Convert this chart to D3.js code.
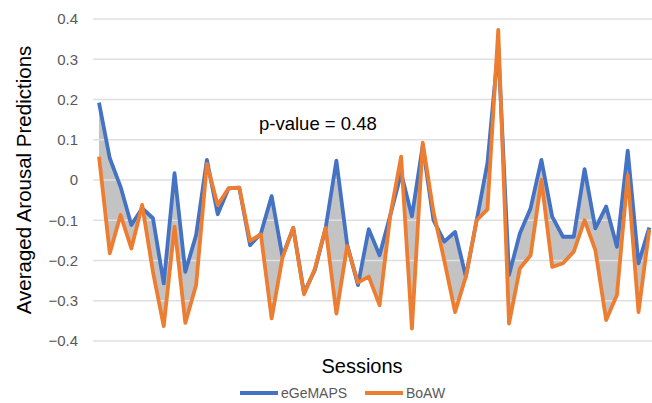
<!DOCTYPE html>
<html lang="en">
<head>
  <meta charset="UTF-8">
  <title>Averaged Arousal Predictions</title>
  <style>
    body { margin: 0; background: white; font-family: "Liberation Sans", Arial, sans-serif; }
  </style>
</head>
<body>

<svg width="652" height="403"></svg>

<script src="https://d3js.org/d3.v7.min.js"></script>
<script>

// Data
let sessions = d3.range(1, 53);
let yTicks = [-0.4, -0.3, -0.2, -0.1, 0, 0.1, 0.2, 0.3, 0.4];

let egemaps = [0.192, 0.054, -0.017, -0.112, -0.07, -0.095, -0.257, 0.017, -0.228, -0.137,
  0.05, -0.085, -0.021, -0.019, -0.162, -0.133, -0.04, -0.19, -0.119, -0.28,
  -0.224, -0.12, 0.048, -0.16, -0.261, -0.122, -0.187, -0.087, 0.017, -0.09,
  0.085, -0.1, -0.153, -0.129, -0.24, -0.1, 0.042, 0.33, -0.236, -0.133,
  -0.07, 0.05, -0.091, -0.141, -0.141, 0.027, -0.12, -0.066, -0.166, 0.073,
  -0.207, -0.118];

let boaw = [0.058, -0.182, -0.087, -0.17, -0.062, -0.228, -0.363, -0.116, -0.355, -0.261,
  0.04, -0.062, -0.021, -0.019, -0.151, -0.135, -0.344, -0.193, -0.119, -0.284,
  -0.221, -0.119, -0.332, -0.164, -0.255, -0.24, -0.311, -0.087, 0.058, -0.369,
  0.093, -0.08, -0.2, -0.328, -0.24, -0.1, -0.073, 0.373, -0.357, -0.22,
  -0.187, 0.0, -0.216, -0.207, -0.178, -0.1, -0.174, -0.348, -0.286, 0.012,
  -0.328, -0.123];

let seriesNames = ["eGeMAPS", "BoAW"];
let colors = ["#4472C4", "#ED7D31"];

let svg = d3.select("svg");

let x = d3.scalePoint()
    .domain(sessions)
    .range([93.6, 654.7])
    .padding(0.5);

let y = d3.scaleLinear()
    .domain([-0.4, 0.4])
    .range([341, 19]);

let rows = sessions.map((s, i) => ({ s: s, a: egemaps[i], b: boaw[i] }));

// grey band between the two series
svg.append("path")
    .datum(rows)
    .attr("fill", "#c3c3c3")
    .attr("d", d3.area()
      .x(d => x(d.s))
      .y0(d => y(d.a))
      .y1(d => y(d.b)));

// gridlines (drawn over the band, so they show as light lines inside it)
svg.append("g")
    .selectAll("line")
    .data(yTicks)
    .enter()
    .append("line")
    .attr("x1", 93)
    .attr("x2", 652)
    .attr("y1", d => y(d))
    .attr("y2", d => y(d))
    .attr("stroke", "#dfdfdf")
    .attr("stroke-width", 1.4);

// y tick labels
svg.append("g")
    .selectAll("text")
    .data(yTicks)
    .enter()
    .append("text")
    .attr("x", 78)
    .attr("y", d => y(d))
    .attr("dy", "0.35em")
    .attr("text-anchor", "end")
    .attr("fill", "#595959")
    .attr("font-size", "15px")
    .text(d => d3.format("")(d));

// lines
let line = d3.line().x((d, i) => x(sessions[i])).y(d => y(d));
[egemaps, boaw].forEach((vals, k) => {
  svg.append("path")
      .datum(vals)
      .attr("fill", "none")
      .attr("stroke", colors[k])
      .attr("stroke-width", 3.8)
      .attr("stroke-linejoin", "round")
      .attr("d", line);
});

// annotation
svg.append("text")
    .attr("x", 259)
    .attr("y", 130)
    .attr("font-size", "18.5px")
    .attr("fill", "#000")
    .text("p-value = 0.48");

// axis titles
svg.append("text")
    .attr("transform", "translate(31,180) rotate(-90)")
    .attr("text-anchor", "middle")
    .attr("font-size", "20.5px")
    .text("Averaged Arousal Predictions");

svg.append("text")
    .attr("x", 362)
    .attr("y", 373)
    .attr("text-anchor", "middle")
    .attr("font-size", "20px")
    .text("Sessions");

// legend
let legendX = [240, 365];
let legend = svg.append("g")
    .selectAll("g")
    .data(seriesNames)
    .enter()
    .append("g")
    .attr("transform", (d, i) => "translate(" + legendX[i] + ",393)");

legend.append("line")
    .attr("x1", 0).attr("x2", 38)
    .attr("stroke", (d, i) => colors[i])
    .attr("stroke-width", 4);

legend.append("text")
    .attr("x", 41)
    .attr("dy", "0.35em")
    .attr("font-size", "14px")
    .attr("fill", "#595959")
    .text(d => d);

</script>

</body>
</html>
